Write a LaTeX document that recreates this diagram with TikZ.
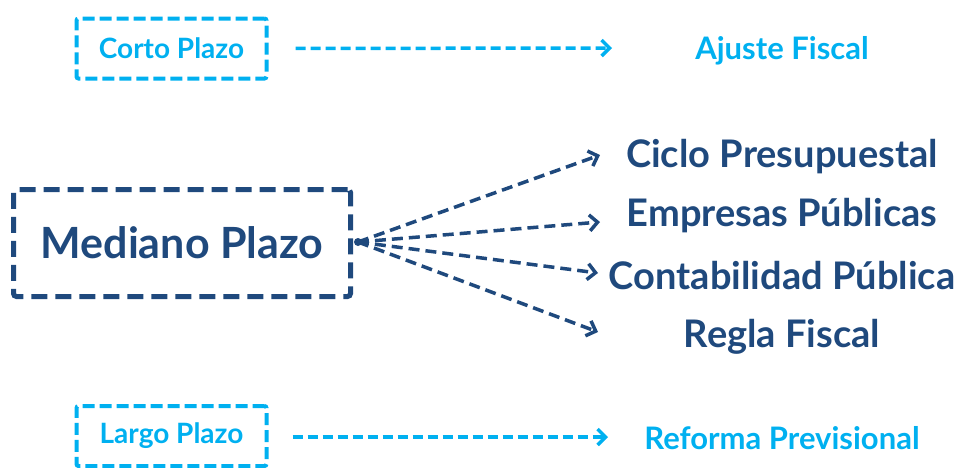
\documentclass[tikz,border=0pt]{standalone}
\usepackage{fontspec}
\setmainfont{Lato}
\usetikzlibrary{arrows.meta}
\definecolor{lblue}{HTML}{00B0F0}
\definecolor{navy}{HTML}{1F497D}
\tikzset{
  smallbox/.style={draw=lblue, line width=4pt, dash pattern=on 12pt off 5pt, rounded corners=2pt, minimum width=190pt, minimum height=60pt, text=lblue, font=\bfseries\fontsize{28}{32}\selectfont},
  bigbox/.style={draw=navy, line width=5pt, dash pattern=on 16pt off 8pt, rounded corners=3pt, minimum width=337pt, minimum height=107pt, text=navy, font=\bfseries\fontsize{43}{50}\selectfont},
  lbl/.style={text=lblue, font=\bfseries\fontsize{31}{36}\selectfont},
  nlbl/.style={text=navy, font=\bfseries\fontsize{38}{44}\selectfont},
  larr/.style={draw=lblue, line width=3.5pt, dash pattern=on 10pt off 5pt, -{Straight Barb[length=8pt,width=16pt]}},
  narr/.style={draw=navy, line width=3.5pt, dash pattern=on 11pt off 6pt, -{Straight Barb[length=8pt,width=16pt]}},
}
\begin{document}
\begin{tikzpicture}[x=1pt,y=-1pt]
\useasboundingbox (0,0) rectangle (956,467);
\node[smallbox] (corto) at (171.5,48.5) {Corto Plazo};
\node[smallbox] (largo) at (171.5,436) {Largo Plazo};
\node[bigbox] (mediano) at (182,243) {Mediano Plazo};
\node[lbl] (ajuste) at (782,51) {Ajuste Fiscal};
\node[lbl] (reforma) at (782,438) {Reforma Previsional};
\node[nlbl] (ciclo) at (782,157) {Ciclo Presupuestal};
\node[nlbl] (empresas) at (782,216) {Empresas Públicas};
\node[nlbl] (conta) at (782,276) {Contabilidad Pública};
\node[nlbl] (regla) at (782,337) {Regla Fiscal};
\coordinate (src) at (358,242);
\coordinate (a1) at (612,48);
\coordinate (a2) at (608,437);
\coordinate (e1) at (600,155);
\coordinate (e2) at (600,222);
\coordinate (e3) at (598,273);
\coordinate (e4) at (598,332);
\draw[larr, shorten <=27pt] (corto.east) -- (a1);
\draw[larr, shorten <=24pt] (corto.east |- largo.east) ++(0,1) -- (a2);
\fill[navy] (src) circle (4pt);
\draw[narr] (src) -- (e1);
\draw[narr] (src) -- (e2);
\draw[narr] (src) -- (e3);
\draw[narr] (src) -- (e4);
\end{tikzpicture}
\end{document}
